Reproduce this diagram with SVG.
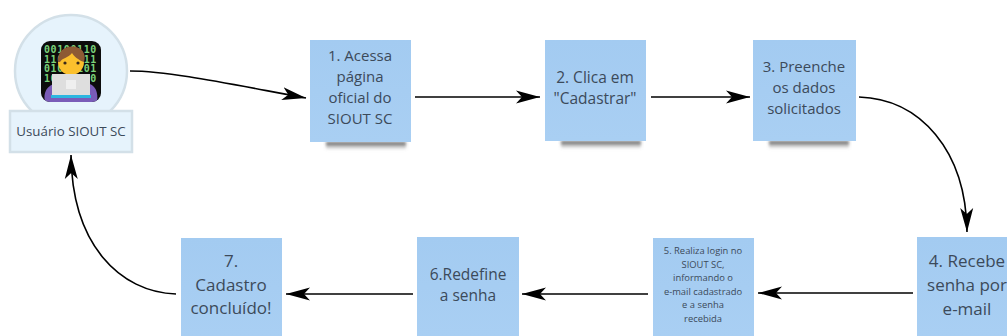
<svg xmlns="http://www.w3.org/2000/svg" width="1007" height="336" viewBox="0 0 1007 336">
<defs>
<marker id="ah" markerUnits="userSpaceOnUse" markerWidth="26" markerHeight="16" refX="24" refY="8" orient="auto"><path d="M0 1.5 L24 8 L0 14.5 L6 8 Z" fill="#000"/></marker>
<linearGradient id="sh" x1="0" y1="0" x2="0" y2="1"><stop offset="0" stop-color="#333" stop-opacity=".9"/><stop offset="1" stop-color="#888" stop-opacity="0"/></linearGradient>
<linearGradient id="note" x1="0" y1="0" x2="0" y2="1"><stop offset="0" stop-color="#a3cbf1"/><stop offset="1" stop-color="#a9cff3"/></linearGradient>
<filter id="bl" x="-10%" y="-100%" width="120%" height="300%"><feGaussianBlur stdDeviation="1.6"/></filter>
<clipPath id="ic"><rect x="41" y="41" width="60" height="61" rx="9"/></clipPath>
</defs>
<style>
text{font-family:"Open Sans","Noto Sans","Liberation Sans",sans-serif;fill:#3c4a5a;text-anchor:middle}
.n{font-size:15.5px}
.m{font-size:15px}
.b{font-size:17px}
.s{font-size:9.4px}
.note{fill:url(#note)}
.shadow{fill:url(#sh);filter:url(#bl)}
.c{fill:none;stroke:#000;stroke-width:1.6;marker-end:url(#ah)}
.bits{font-family:"DejaVu Sans Mono","Liberation Mono",monospace;font-size:10px;font-weight:700;fill:#7ad17a;text-anchor:start;letter-spacing:.6px}
</style>
<rect width="1007" height="336" fill="#fff"/>
<g id="connectors">
<path class="c" d="M130 71 C170 71 230 84 306 98"/>
<path class="c" d="M415 97 H540"/>
<path class="c" d="M651 97 H750"/>
<path class="c" d="M859 97 C920 99 966 150 967 232"/>
<path class="c" d="M913 293 H758"/>
<path class="c" d="M648 294 H522"/>
<path class="c" d="M413 294 H286"/>
<path class="c" d="M176 294 C120 292 72 245 71 155"/>
</g>
<g id="user">
<circle cx="71" cy="71" r="56" fill="#e6f3fc" stroke="#d3e0e8" stroke-width="2.5"/>
<g id="user-icon">
<rect x="41" y="41" width="60" height="61" rx="9" fill="#0c0c0c"/>
<g clip-path="url(#ic)">
<text class="bits" x="44" y="53">00100110</text>
<text class="bits" x="44" y="63">11000011</text>
<text class="bits" x="44" y="72">01000101</text>
<text class="bits" x="44" y="82">10001100</text>
<path d="M45 102 C42 88 52 83 60 83 H84 C92 83 99 88 97 102 Z" fill="#7a5cb8"/>
<rect x="51" y="95" width="40" height="3" fill="#2cb6e0"/>
<circle cx="71" cy="62" r="13" fill="#fbc02d"/>
<path d="M58 62 C57 49 68 45 76 47 C84 49 86 56 84 62 C78 60 74 56 72 53 C68 58 62 58 60 62 Z" fill="#8d5a34"/>
<circle cx="65" cy="63" r="1.6" fill="#3a2a1a"/><circle cx="78" cy="63" r="1.6" fill="#3a2a1a"/>
<rect x="52" y="74" width="38" height="21" fill="#dedede"/>
<rect x="66" y="80" width="10" height="9" fill="#efefef"/>
</g>
</g>
<rect x="10" y="111" width="122" height="41" fill="#e6f3fc" stroke="#d3e0e8" stroke-width="2.5"/>
<text x="71" y="136" style="font-size:13.3px">Usuário SIOUT SC</text>
</g>
<g id="node1">
<rect class="shadow" x="326" y="142" width="80" height="8"/>
<rect class="note" x="310" y="40" width="101" height="102"/>
<text class="m" x="360" y="61">1. Acessa</text><text class="m" x="360" y="82">página</text><text class="m" x="360" y="103">oficial do</text><text class="m" x="360" y="124">SIOUT SC</text>
</g>
<g id="node2">
<rect class="shadow" x="561" y="141" width="80" height="8"/>
<rect class="note" x="545" y="40" width="101" height="101"/>
<text class="n" x="595" y="83">2. Clica em</text><text class="n" x="595" y="104">"Cadastrar"</text>
</g>
<g id="node3">
<rect class="shadow" x="769" y="141" width="80" height="8"/>
<rect class="note" x="753" y="40" width="103" height="101"/>
<text class="m" x="804" y="72">3. Preenche</text><text class="m" x="804" y="93">os dados</text><text class="m" x="804" y="114">solicitados</text>
</g>
<g id="node4">
<rect class="note" x="917" y="237" width="92" height="99"/>
<text class="b" x="967" y="267">4. Recebe</text><text class="b" x="967" y="291">senha por</text><text class="b" x="967" y="315">e-mail</text>
</g>
<g id="node5">
<rect class="note" x="653" y="238" width="101" height="98"/>
<text class="s" x="703" y="254">5. Realiza login no</text><text class="s" x="703" y="268">SIOUT SC,</text><text class="s" x="703" y="281">informando o</text><text class="s" x="703" y="295">e-mail cadastrado</text><text class="s" x="703" y="308">e a senha</text><text class="s" x="703" y="322">recebida</text>
</g>
<g id="node6">
<rect class="note" x="417" y="237" width="102" height="99"/>
<text class="n" x="468" y="280">6.Redefine</text><text class="n" x="468" y="301">a senha</text>
</g>
<g id="node7">
<rect class="note" x="181" y="238" width="101" height="98"/>
<text class="b" x="231" y="267">7.</text><text class="b" x="231" y="291">Cadastro</text><text class="b" x="231" y="314">concluído!</text>
</g>
</svg>
